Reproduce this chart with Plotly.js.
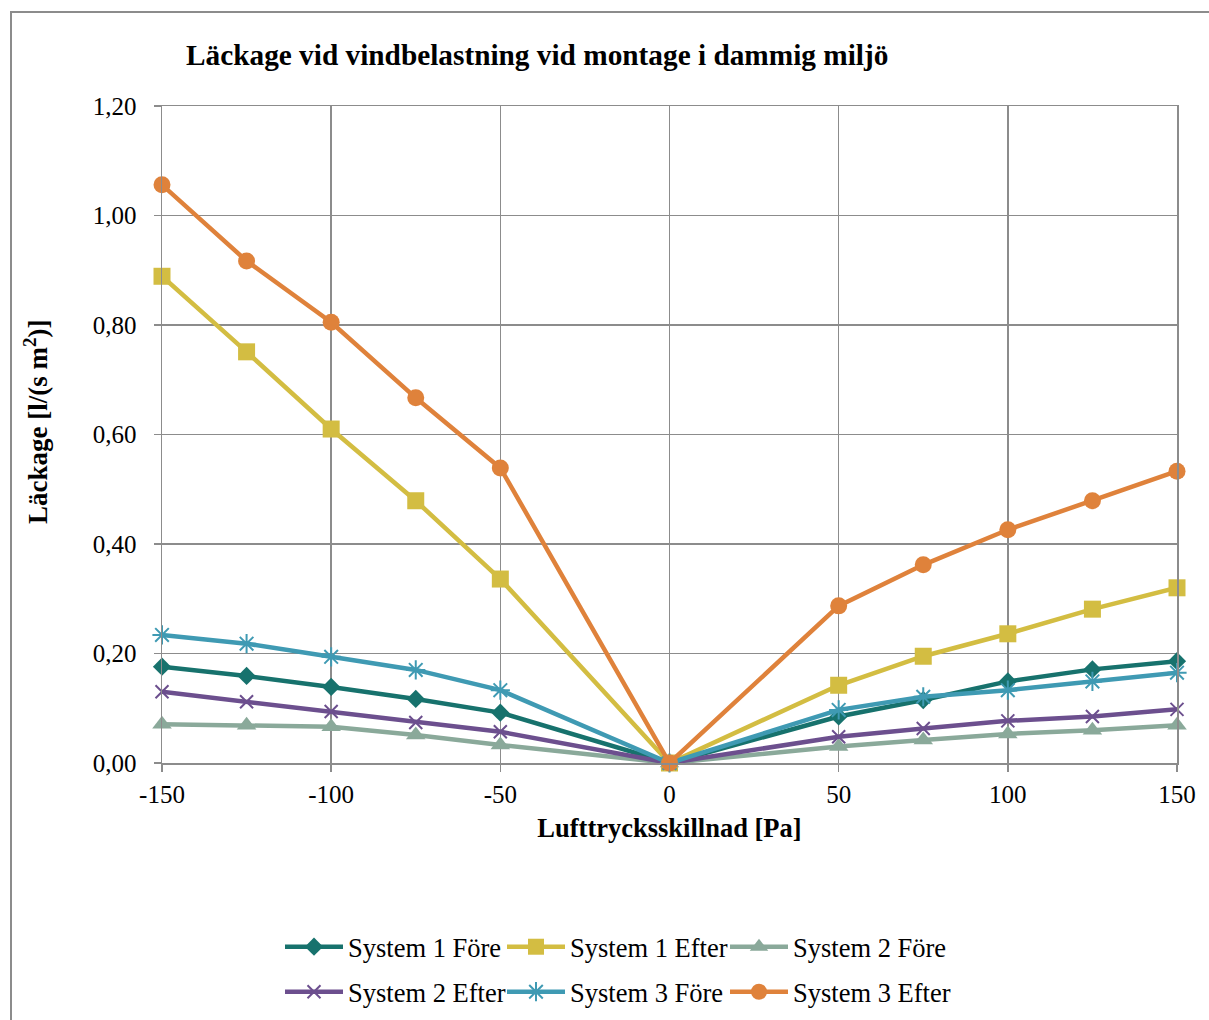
<!DOCTYPE html>
<html>
<head>
<meta charset="utf-8">
<script src="https://cdn.plot.ly/plotly-3.0.1.min.js"></script>
<style>
html,body{margin:0;padding:0;background:#fff;overflow:hidden;}
#wrap{position:relative;width:1209px;height:1020px;}
#chart{position:absolute;left:0;top:0;width:1209px;height:1020px;}
#frame{position:absolute;left:10px;top:11px;width:1400px;height:1200px;border:2px solid #8c8c8c;pointer-events:none;}
</style>
</head>
<body>
<div id="wrap"><div id="chart"></div><div id="frame"></div></div>
<script>
const pressure = [-150, -125, -100, -75, -50, 0, 50, 75, 100, 125, 150];
const sys1Fore  = [0.176, 0.159, 0.139, 0.117, 0.092, 0, 0.085, 0.115, 0.149, 0.171, 0.186];
const sys1Efter = [0.889, 0.751, 0.610, 0.479, 0.336, 0, 0.142, 0.195, 0.236, 0.281, 0.320];
const sys2Fore  = [0.071, 0.069, 0.066, 0.051, 0.033, 0, 0.030, 0.042, 0.053, 0.060, 0.069];
const sys2Efter = [0.130, 0.112, 0.094, 0.074, 0.057, 0, 0.048, 0.063, 0.077, 0.085, 0.098];
const sys3Fore  = [0.234, 0.218, 0.194, 0.170, 0.133, 0, 0.097, 0.121, 0.133, 0.149, 0.165];
const sys3Efter = [1.056, 0.917, 0.805, 0.667, 0.539, 0, 0.287, 0.362, 0.426, 0.479, 0.533];
const seriesNames = ["System 1 Före", "System 1 Efter", "System 2 Före", "System 2 Efter", "System 3 Före", "System 3 Efter"];
const xTicks = [-150, -100, -50, 0, 50, 100, 150];
const yTicks = [0, 0.2, 0.4, 0.6, 0.8, 1.0, 1.2];
const chartTitle = "Läckage vid vindbelastning vid montage i dammig miljö";
const xTitle = "Lufttrycksskillnad [Pa]";
const yTitle = "Läckage [l/(s m<sup>2</sup>)]";

const FONT = "Liberation Serif, Times New Roman, serif";
const GRID = "#8c8c8c";

function tr(y, name, color, symbol, size, legend, open) {
  const m = {symbol: symbol, size: size, color: color};
  if (open) { m.line = {color: color, width: 2}; }
  else { m.line = {width: 0}; }
  return {x: pressure, y: y, name: name, type: "scatter", mode: "lines+markers",
    line: {color: color, width: 4.5}, marker: m, legend: legend, cliponaxis: false};
}

const traces = [
  tr(sys1Fore, seriesNames[0], "#17726d", "diamond", 14, "legend", false),
  tr(sys1Efter, seriesNames[1], "#d3bd42", "square", 17, "legend2", false),
  tr(sys2Fore, seriesNames[2], "#8aa99a", "triangle-up", 17, "legend3", false),
  tr(sys2Efter, seriesNames[3], "#6c4f8e", "x-thin", 13, "legend4", true),
  tr(sys3Fore, seriesNames[4], "#3f9ab3", "asterisk", 16, "legend5", true),
  tr(sys3Efter, seriesNames[5], "#df823b", "circle", 17, "legend6", false)
];

function leg(px, py) {
  return {orientation: "h", xref: "container", yref: "container", xanchor: "left", yanchor: "middle",
    font: {family: FONT, size: 26.5, color: "#000"}, itemwidth: 58,
    bgcolor: "rgba(0,0,0,0)", x: px / 1209, y: 1 - py / 1020};
}

const layout = {
  width: 1209, height: 1020,
  margin: {l: 162, r: 32, t: 106, b: 257},
  paper_bgcolor: "rgba(0,0,0,0)", plot_bgcolor: "#fff",
  font: {family: FONT, size: 25, color: "#000"},
  separators: ", ",
  title: {text: chartTitle,
    font: {family: FONT, size: 29.3, weight: "bold", color: "#000"},
    xref: "container", yref: "container", x: 186/1209, xanchor: "left", y: 1 - 55/1020, yanchor: "middle"},
  xaxis: {range: [-150, 150], tickvals: xTicks, ticktext: xTicks.map(String),
    showgrid: true, gridcolor: GRID, gridwidth: 1.5, zeroline: false,
    showline: true, linecolor: GRID, linewidth: 1.5, mirror: true,
    ticks: "outside", ticklen: 7, tickcolor: GRID, tickwidth: 1.5, ticklabelstandoff: 1,
    tickfont: {family: FONT, size: 25, color: "#000"},
    title: {text: xTitle, font: {family: FONT, size: 26.5, weight: "bold", color: "#000"}, standoff: 12},
    automargin: false},
  yaxis: {range: [0, 1.2], tickvals: yTicks, tickformat: ".2f",
    showgrid: true, gridcolor: GRID, gridwidth: 1.5, zeroline: false,
    showline: true, linecolor: GRID, linewidth: 1.5, mirror: true,
    ticks: "outside", ticklen: 7, tickcolor: GRID, tickwidth: 1.5, ticklabelstandoff: 12,
    tickfont: {family: FONT, size: 25, color: "#000"},
    automargin: false},
  annotations: [{text: yTitle, textangle: -90, xref: "paper", yref: "paper",
    x: (36 - 162) / 1015, y: (763 - 422) / 657, xanchor: "center", yanchor: "middle", showarrow: false,
    font: {family: FONT, size: 27, weight: "bold", color: "#000"}}],
  showlegend: true,
  legend: leg(280, 947),
  legend2: leg(502, 947),
  legend3: leg(725, 947),
  legend4: leg(280, 992),
  legend5: leg(502, 992),
  legend6: leg(725, 992)
};

Plotly.newPlot("chart", traces, layout, {displayModeBar: false, staticPlot: true});
</script>
</body>
</html>
